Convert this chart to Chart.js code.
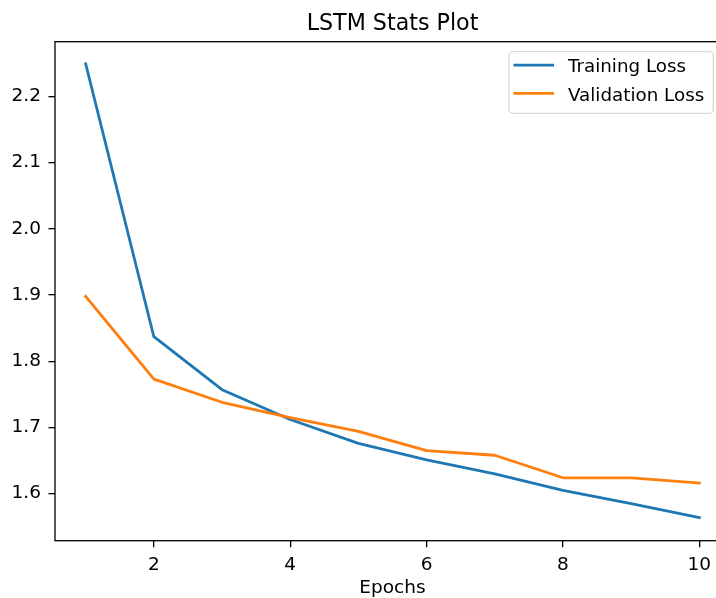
<!doctype html>
<html>
<head>
<title>LSTM Stats Plot</title>
	<script src="https://cdn.jsdelivr.net/npm/chart.js@4/dist/chart.umd.min.js"></script>
	<style>
		body { margin: 0; background: #fff; }
		#wrap { width: 716px; height: 598px; overflow: hidden; position: relative; }
		canvas { position: absolute; left: 0; top: 0; }
	</style>
</head>

<body>
	<div id="wrap">
		<canvas id="canvas" width="730" height="610"></canvas>
	</div>
	<script>
		var epochs = [1, 2, 3, 4, 5, 6, 7, 8, 9, 10];
		var trainingLoss = [2.249, 1.837, 1.757, 1.712, 1.676, 1.651, 1.630, 1.605, 1.585, 1.564];
		var validationLoss = [1.898, 1.773, 1.738, 1.715, 1.694, 1.665, 1.658, 1.624, 1.624, 1.616];
		var xTicks = [2, 4, 6, 8, 10];
		var yTicks = [1.6, 1.7, 1.8, 1.9, 2.0, 2.1, 2.2];
		var titleText = 'LSTM Stats Plot';

		var FONT = '"DejaVu Sans", sans-serif';

		function points(values) {
			return epochs.map(function(e, i) {
				return {x: e, y: values[i]};
			});
		}

		// matplotlib-like frame, title over the axes, legend box
		var framePlugin = {
			id: 'frame',
			afterDraw: function(chart) {
				var ctx = chart.ctx;
				var a = chart.chartArea;
				ctx.save();
				ctx.strokeStyle = '#000';
				ctx.lineWidth = 1.3;
				ctx.strokeRect(a.left, a.top, a.right - a.left, a.bottom - a.top);

				// title centred on the axes, not the canvas
				ctx.fillStyle = '#000';
				ctx.font = '22.2px ' + FONT;
				ctx.textAlign = 'center';
				ctx.textBaseline = 'alphabetic';
				ctx.fillText(titleText, (a.left + a.right) / 2, a.top - 12);

				// legend
				var x0 = 509, y0 = 51.7, w = 204.3, h = 61.6, r = 4;
				ctx.beginPath();
				ctx.moveTo(x0 + r, y0);
				ctx.arcTo(x0 + w, y0, x0 + w, y0 + h, r);
				ctx.arcTo(x0 + w, y0 + h, x0, y0 + h, r);
				ctx.arcTo(x0, y0 + h, x0, y0, r);
				ctx.arcTo(x0, y0, x0 + w, y0, r);
				ctx.closePath();
				ctx.fillStyle = 'rgba(255,255,255,0.8)';
				ctx.fill();
				ctx.strokeStyle = 'rgba(204,204,204,0.8)';
				ctx.lineWidth = 1.3;
				ctx.stroke();

				ctx.font = '18.3px ' + FONT;
				ctx.textAlign = 'left';
				chart.data.datasets.forEach(function(ds, i) {
					var ly = 65.2 + i * 28.2;
					ctx.beginPath();
					ctx.moveTo(513.5, ly);
					ctx.lineTo(554, ly);
					ctx.strokeStyle = ds.borderColor;
					ctx.lineWidth = 2.8;
					ctx.stroke();
					ctx.fillStyle = '#000';
					ctx.fillText(ds.label, 568, ly + 7.2);
				});
				ctx.restore();
			}
		};

		var config = {
			type: 'line',
			data: {
				datasets: [{
					label: 'Training Loss',
					data: points(trainingLoss),
					borderColor: '#1f77b4',
					backgroundColor: '#1f77b4',
					borderWidth: 2.8,
					pointRadius: 0,
					fill: false,
					tension: 0,
					borderJoinStyle: 'round',
					borderCapStyle: 'square',
					order: 1
				}, {
					label: 'Validation Loss',
					data: points(validationLoss),
					borderColor: '#ff7f0e',
					backgroundColor: '#ff7f0e',
					borderWidth: 2.8,
					pointRadius: 0,
					fill: false,
					tension: 0,
					borderJoinStyle: 'round',
					borderCapStyle: 'square',
					order: 0
				}]
			},
			options: {
				responsive: false,
				animation: false,
				layout: { padding: { top: 41.7, left: 0, right: 0, bottom: 0 } },
				plugins: {
					legend: { display: false },
					tooltip: { enabled: false },
					title: { display: false }
				},
				scales: {
					x: {
						type: 'linear',
						min: 0.55,
						max: 10.45,
						afterFit: function(scale) { scale.height = 69.3; },
						afterBuildTicks: function(scale) {
							scale.ticks = xTicks.map(function(v) { return {value: v}; });
						},
						border: { display: false },
						grid: {
							drawOnChartArea: false,
							drawTicks: true,
							tickLength: 6.5,
							color: '#000',
							lineWidth: 1.3
						},
						ticks: {
							color: '#000',
							padding: 7,
							maxRotation: 0,
							font: { family: FONT, size: 18.5 }
						},
						title: {
							display: true,
							text: 'Epochs',
							color: '#000',
							font: { family: FONT, size: 18.5 },
							padding: { top: 0, bottom: 11 }
						}
					},
					y: {
						min: 1.529,
						max: 2.2825,
						afterFit: function(scale) { scale.width = 55; },
						afterBuildTicks: function(scale) {
							scale.ticks = yTicks.map(function(v) { return {value: v}; });
						},
						border: { display: false },
						grid: {
							drawOnChartArea: false,
							drawTicks: true,
							tickLength: 6.5,
							color: '#000',
							lineWidth: 1.3
						},
						ticks: {
							color: '#000',
							padding: 7.5,
							font: { family: FONT, size: 18.5 },
							callback: function(v) { return v.toFixed(1); }
						}
					}
				}
			},
			plugins: [framePlugin]
		};

		window.onload = function() {
			var ctx = document.getElementById('canvas').getContext('2d');
			window.myLine = new Chart(ctx, config);
		};
	</script>
</body>

</html>
